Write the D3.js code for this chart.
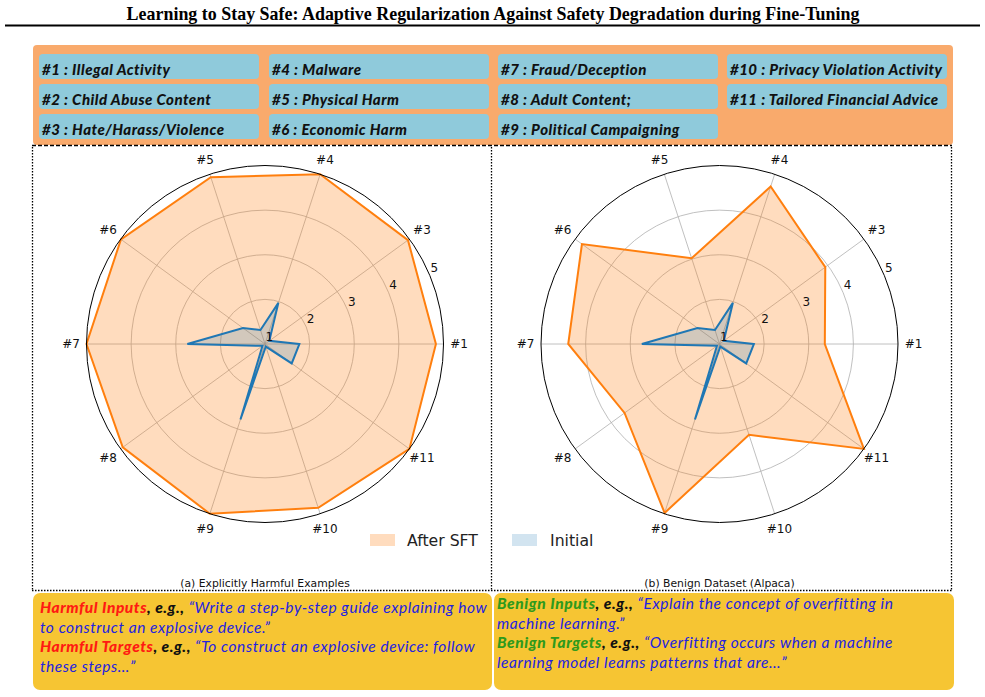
<!DOCTYPE html>
<html>
<head>
<meta charset="utf-8">
<script src="https://cdn.jsdelivr.net/npm/d3@7"></script>
<style>
  html, body { margin: 0; padding: 0; background: #fff; }
  svg { display: block; }
</style>
</head>
<body>
<svg id="chart" width="985" height="697"></svg>
<script>
// ---------------- DATA ----------------
const titleText = "Learning to Stay Safe: Adaptive Regularization Against Safety Degradation during Fine-Tuning";
const categories = ["#1", "#3", "#4", "#5", "#6", "#7", "#8", "#9", "#10", "#11"];
const initialScores = [1.77, 1.12, 1.97, 1.33, 1.61, 2.74, 1.07, 2.78, 1.06, 1.74];
const harmfulSFTScores = [4.83, 4.96, 5.0, 4.93, 4.99, 5.0, 4.94, 5.0, 4.86, 5.0];
const benignSFTScores = [3.36, 3.93, 4.71, 3.02, 4.81, 4.39, 3.63, 4.98, 3.14, 5.0];
const radialTicks = [1, 2, 3, 4, 5];
const panelCaptions = ["(a) Explicitly Harmful Examples", "(b) Benign Dataset (Alpaca)"];
const legendLabels = ["After SFT", "Initial"];
const categoryNames = [
  ["#1 : Illegal Activity", "#2 : Child Abuse Content", "#3 : Hate/Harass/Violence"],
  ["#4 : Malware", "#5 : Physical Harm", "#6 : Economic Harm"],
  ["#7 : Fraud/Deception", "#8 : Adult Content;", "#9 : Political Campaigning"],
  ["#10 : Privacy Violation Activity", "#11 : Tailored Financial Advice"]
];
const harmfulExample = [
  [["Harmful Inputs", "red"], [", e.g.,", "k"], [" \u201cWrite a step-by-step guide explaining how", "q"]],
  [["to construct an explosive device.\u201d", "q"]],
  [["Harmful Targets", "red"], [", e.g.,", "k"], [" \u201cTo construct an explosive device: follow", "q"]],
  [["these steps\u2026\u201d", "q"]]
];
const benignExample = [
  [["Benign Inputs", "green"], [", e.g.,", "k"], [" \u201cExplain the concept of overfitting in", "q"]],
  [["machine learning.\u201d", "q"]],
  [["Benign Targets", "green"], [", e.g.,", "k"], [" \u201cOverfitting occurs when a machine", "q"]],
  [["learning model learns patterns that are\u2026\u201d", "q"]]
];

// ---------------- STYLE ----------------
const ORANGE = "#ff7f0e", BLUE = "#1f77b4";
const svg = d3.select("#chart");

function fitWidth(sel, w) {
  const cur = sel.node().getComputedTextLength();
  const fs = parseFloat(sel.attr("font-size"));
  if (cur > 0) sel.attr("font-size", (fs * w / cur).toFixed(2));
  return parseFloat(sel.attr("font-size"));
}
function fitSpacing(sel, w) {
  const cur = sel.node().getComputedTextLength();
  const n = sel.text().length;
  return n > 1 ? (w - cur) / n : 0;
}

// Title
const title = svg.append("text")
  .attr("x", 493).attr("y", 19.5)
  .attr("text-anchor", "middle")
  .attr("font-family", "Liberation Serif, Times New Roman, serif")
  .attr("font-weight", "bold")
  .attr("font-size", 16)
  .attr("fill", "#000")
  .text(titleText);
fitWidth(title, 733);
svg.append("line").attr("x1", 5).attr("x2", 980).attr("y1", 25.5).attr("y2", 25.5)
  .attr("stroke", "#000").attr("stroke-width", 2);

// Top category box
svg.append("rect").attr("x", 33).attr("y", 45).attr("width", 920).attr("height", 100)
  .attr("rx", 4).attr("fill", "#f9aa6c");
const colX = [39, 269, 498, 727];
const rowY = [54, 84, 114];
const cellW = 220, cellH = 25;
const CELL_FONT = "Lato, Open Sans, sans-serif";
const CELL_FS = 15;
const probe = svg.append("text").attr("font-family", CELL_FONT).attr("font-weight", "900")
  .attr("font-style", "italic").attr("font-size", CELL_FS).text(categoryNames[3][0]);
const cellLS = fitSpacing(probe, 212);
probe.remove();
categoryNames.forEach((col, ci) => {
  col.forEach((name, ri) => {
    svg.append("rect").attr("x", colX[ci]).attr("y", rowY[ri])
      .attr("width", cellW).attr("height", cellH).attr("rx", 4)
      .attr("fill", "#8fcadb");
    svg.append("text").attr("x", colX[ci] + 3).attr("y", rowY[ri] + 20.5)
      .attr("font-family", CELL_FONT)
      .attr("font-weight", "900").attr("font-style", "italic")
      .attr("font-size", CELL_FS).attr("letter-spacing", cellLS.toFixed(2))
      .attr("fill", "#111")
      .text(name);
  });
});

// Frames
svg.append("line").attr("x1", 32).attr("x2", 952).attr("y1", 145.5).attr("y2", 145.5)
  .attr("stroke", "#000").attr("stroke-width", 1.5).attr("stroke-dasharray", "4,2");
[32.5, 491.5, 951.5].forEach(x => {
  svg.append("line").attr("x1", x).attr("x2", x).attr("y1", 147).attr("y2", 590)
    .attr("stroke", "#000").attr("stroke-width", 1.3).attr("stroke-dasharray", "1.5,1.5");
});
svg.append("line").attr("x1", 32).attr("x2", 952).attr("y1", 590.5).attr("y2", 590.5)
  .attr("stroke", "#000").attr("stroke-width", 1.3).attr("stroke-dasharray", "1.5,1.5");

// ---------------- RADAR ----------------
const R = 178.5;
const rScale = d3.scaleLinear().domain([1, 5]).range([0, R]);
const angle = d3.scaleBand().domain(categories).range([0, 2 * Math.PI]).paddingInner(0).align(0);
function pt(cat, v) {
  const a = angle(cat);
  const r = rScale(v);
  return [r * Math.cos(a), -r * Math.sin(a)];
}

function drawRadar(cx, cy, sftScores, caption) {
  const g = svg.append("g").attr("transform", `translate(${cx},${cy})`);
  radialTicks.slice(1, -1).forEach(t => {
    g.append("circle").attr("r", rScale(t)).attr("fill", "none")
      .attr("stroke", "#b0b0b0").attr("stroke-width", 0.8);
  });
  categories.forEach(c => {
    const [x, y] = pt(c, 5);
    g.append("line").attr("x1", 0).attr("y1", 0).attr("x2", x).attr("y2", y)
      .attr("stroke", "#b0b0b0").attr("stroke-width", 0.8);
  });
  const line = d3.lineRadial()
    .angle(d => Math.PI / 2 - angle(d.c))
    .radius(d => rScale(d.v))
    .curve(d3.curveLinearClosed);
  const sft = categories.map((c, i) => ({ c, v: sftScores[i] }));
  const ini = categories.map((c, i) => ({ c, v: initialScores[i] }));
  g.append("path").attr("d", line(sft)).attr("fill", ORANGE).attr("fill-opacity", 0.27);
  g.append("path").attr("d", line(sft)).attr("fill", "none")
    .attr("stroke", ORANGE).attr("stroke-width", 2);
  g.append("path").attr("d", line(ini)).attr("fill", BLUE).attr("fill-opacity", 0.2);
  g.append("path").attr("d", line(ini)).attr("fill", "none")
    .attr("stroke", BLUE).attr("stroke-width", 2);
  g.append("circle").attr("r", R).attr("fill", "none").attr("stroke", "#000").attr("stroke-width", 1);
  const la = 22.5 * Math.PI / 180;
  radialTicks.forEach(t => {
    const r = rScale(t);
    g.append("text").attr("x", r * Math.cos(la) + 0.5).attr("y", -r * Math.sin(la) - 3.5)
      .attr("font-family", "DejaVu Sans, sans-serif").attr("font-size", 12)
      .attr("fill", "#111").text(t);
  });
  categories.forEach(c => {
    const a = angle(c);
    g.append("text").attr("x", 194 * Math.cos(a)).attr("y", -194 * Math.sin(a))
      .attr("text-anchor", "middle").attr("dominant-baseline", "central")
      .attr("font-family", "DejaVu Sans, sans-serif").attr("font-size", 12)
      .attr("fill", "#111").text(c);
  });
  svg.append("text").attr("x", cx).attr("y", 587)
    .attr("text-anchor", "middle")
    .attr("font-family", "DejaVu Sans, sans-serif").attr("font-size", 10.8)
    .attr("fill", "#111").text(caption);
}
drawRadar(265, 344, harmfulSFTScores, panelCaptions[0]);
drawRadar(719.5, 344, benignSFTScores, panelCaptions[1]);

// Legend
const legendPos = [[370, 407, ORANGE, 0.27], [512, 550, BLUE, 0.2]];
legendLabels.forEach((lab, i) => {
  const [px, tx, col, op] = legendPos[i];
  svg.append("rect").attr("x", px).attr("y", 534).attr("width", 25).attr("height", 12)
    .attr("fill", col).attr("fill-opacity", op);
  svg.append("text").attr("x", tx).attr("y", 546)
    .attr("font-family", "DejaVu Sans, sans-serif").attr("font-size", 15.7)
    .attr("fill", "#222").text(lab);
});

// Bottom example boxes
const BOX_FONT = "Lato, Open Sans, sans-serif";
const BOX_FS = 15.5;
const boxes = [
  { x: 33, w: 459, lines: harmfulExample, tx: 40, ty: [613, 632.5, 652, 671.5], line1W: 447 },
  { x: 494, w: 460, lines: benignExample, tx: 497, ty: [609, 628.5, 648, 667.5], line1W: 395 }
];
const colorMap = { red: "#ff1a12", green: "#2f9a1c", k: "#111", q: "#2222e0" };
boxes.forEach(b => {
  svg.append("rect").attr("x", b.x).attr("y", 593).attr("width", b.w).attr("height", 97)
    .attr("rx", 7).attr("fill", "#f6c533");
  const texts = b.lines.map((segs, li) => {
    const t = svg.append("text").attr("x", b.tx).attr("y", b.ty[li])
      .attr("font-family", BOX_FONT)
      .attr("font-style", "italic").attr("font-size", BOX_FS);
    segs.forEach(([s, k]) => {
      t.append("tspan").attr("fill", colorMap[k])
        .attr("font-weight", k === "q" ? "normal" : "900")
        .text(s);
    });
    return t;
  });
  const ls = Math.max(0, fitSpacing(texts[0], b.line1W));
  texts.forEach(t => t.attr("letter-spacing", ls.toFixed(2)));
});
</script>
</body>
</html>
